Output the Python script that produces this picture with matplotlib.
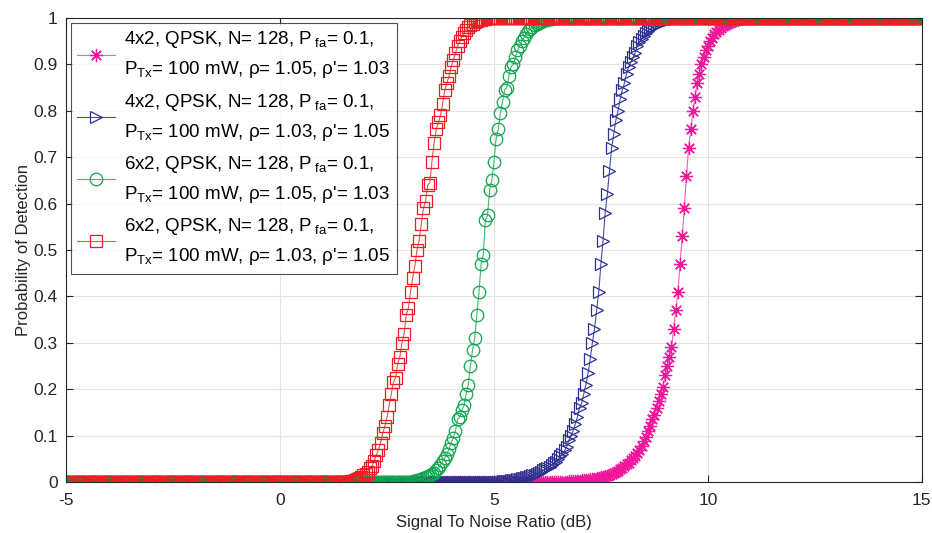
import numpy as np
import matplotlib
matplotlib.use("Agg")
import matplotlib.pyplot as plt

plt.rcParams['font.family'] = ['Liberation Sans', 'DejaVu Sans']
plt.rcParams['mathtext.fontset'] = 'custom'
plt.rcParams['mathtext.rm'] = 'Liberation Sans'
plt.rcParams['mathtext.it'] = 'Liberation Sans:italic'
plt.rcParams['axes.unicode_minus'] = False

STEP = 0.05
X_MIN, X_MAX = -5.0, 15.0

labels = [
    "4x2, QPSK, N= 128, P$_{\\ \\mathrm{fa}}$= 0.1,\nP$_{\\mathrm{Tx}}$= 100 mW, \u03c1= 1.05, \u03c1'= 1.03",
    "4x2, QPSK, N= 128, P$_{\\ \\mathrm{fa}}$= 0.1,\nP$_{\\mathrm{Tx}}$= 100 mW, \u03c1= 1.03, \u03c1'= 1.05",
    "6x2, QPSK, N= 128, P$_{\\ \\mathrm{fa}}$= 0.1,\nP$_{\\mathrm{Tx}}$= 100 mW, \u03c1= 1.05, \u03c1'= 1.03",
    "6x2, QPSK, N= 128, P$_{\\ \\mathrm{fa}}$= 0.1,\nP$_{\\mathrm{Tx}}$= 100 mW, \u03c1= 1.03, \u03c1'= 1.05",
]

# transition start SNR (dB) for each series; below -> Pd = 0, after list -> Pd = 1
start_4x2_a = 6.5
pd_4x2_a = [0.0, 0.0, 0.001, 0.001, 0.001, 0.002, 0.002, 0.002, 0.003, 0.003,
            0.003, 0.004, 0.004, 0.005, 0.005, 0.006, 0.006, 0.007, 0.008, 0.009,
            0.01, 0.011, 0.012, 0.013, 0.015, 0.017, 0.019, 0.021, 0.024, 0.027,
            0.03, 0.034, 0.038, 0.042, 0.047, 0.052, 0.056, 0.062, 0.068, 0.078,
            0.088, 0.098, 0.11, 0.12, 0.135, 0.145, 0.16, 0.175, 0.19, 0.205,
            0.23, 0.25, 0.27, 0.29, 0.33, 0.37, 0.41, 0.47, 0.53, 0.59,
            0.66, 0.72, 0.76, 0.8, 0.83, 0.86, 0.88, 0.9, 0.915, 0.93,
            0.94, 0.95, 0.958, 0.965, 0.97, 0.975, 0.979, 0.982, 0.985, 0.988,
            0.99, 0.992, 0.994, 0.995, 0.996, 0.997, 0.998, 0.999, 1.0]

start_4x2_b = 5.0
pd_4x2_b = [0.0, 0.0, 0.001, 0.001, 0.002, 0.002, 0.003, 0.003, 0.004, 0.004,
            0.005, 0.006, 0.007, 0.008, 0.009, 0.01, 0.011, 0.012, 0.014, 0.016,
            0.018, 0.02, 0.022, 0.025, 0.027, 0.03, 0.033, 0.037, 0.04, 0.044,
            0.05, 0.055, 0.06, 0.068, 0.075, 0.09, 0.1, 0.11, 0.125, 0.14,
            0.16, 0.17, 0.19, 0.21, 0.235, 0.265, 0.3, 0.33, 0.37, 0.41,
            0.47, 0.52, 0.58, 0.62, 0.67, 0.72, 0.75, 0.78, 0.8, 0.825,
            0.845, 0.86, 0.88, 0.895, 0.905, 0.915, 0.925, 0.94, 0.948, 0.955,
            0.962, 0.968, 0.972, 0.976, 0.98, 0.983, 0.986, 0.988, 0.99, 0.992,
            0.994, 0.995, 0.996, 0.997, 0.998, 0.999, 0.999, 1.0]

start_6x2_a = 3.0
pd_6x2_a = [0.0, 0.001, 0.002, 0.003, 0.004, 0.005, 0.006, 0.008, 0.01, 0.012,
            0.014, 0.017, 0.02, 0.025, 0.03, 0.037, 0.045, 0.052, 0.06, 0.072,
            0.085, 0.095, 0.11, 0.135, 0.14, 0.155, 0.165, 0.19, 0.21, 0.25,
            0.285, 0.31, 0.36, 0.41, 0.47, 0.49, 0.565, 0.575, 0.63, 0.65,
            0.69, 0.74, 0.76, 0.795, 0.82, 0.845, 0.85, 0.875, 0.895, 0.9,
            0.915, 0.93, 0.94, 0.95, 0.958, 0.965, 0.972, 0.977, 0.981, 0.985,
            0.988, 0.99, 0.992, 0.994, 0.995, 0.996, 0.997, 0.998, 0.999, 0.999,
            1.0]

start_6x2_b = 1.5
pd_6x2_b = [0.0, 0.0, 0.001, 0.002, 0.003, 0.004, 0.006, 0.008, 0.01, 0.014,
            0.018, 0.022, 0.03, 0.035, 0.045, 0.058, 0.07, 0.085, 0.105, 0.12,
            0.14, 0.165, 0.19, 0.215, 0.225, 0.255, 0.27, 0.3, 0.32, 0.36,
            0.375, 0.41, 0.44, 0.465, 0.5, 0.52, 0.555, 0.59, 0.605, 0.64,
            0.645, 0.69, 0.73, 0.76, 0.775, 0.79, 0.815, 0.845, 0.86, 0.875,
            0.895, 0.91, 0.925, 0.94, 0.95, 0.96, 0.968, 0.975, 0.98, 0.985,
            0.988, 0.991, 0.993, 0.995, 0.996, 0.997, 0.998, 0.999, 0.999, 1.0,
            1.0]

starts = [start_4x2_a, start_4x2_b, start_6x2_a, start_6x2_b]
pds = [pd_4x2_a, pd_4x2_b, pd_6x2_a, pd_6x2_b]

colors = ['#f0179b', '#2e3192', '#12a54f', '#ee1c25']
line_colors = ['#f55fb8', '#4a4da3', '#40b870', '#f25058']
markers = [(8, 2, 0), '>', 'o', 's']
msizes = [9.5, 8.5, 9, 8]


def full_series(start, vals):
    n_before = int(round((start - X_MIN) / STEP))
    n_total = int(round((X_MAX - X_MIN) / STEP)) + 1
    y = [0.0] * n_before + list(vals)
    y = y + [1.0] * (n_total - len(y))
    x = np.round(X_MIN + STEP * np.arange(n_total), 2)
    return x, np.array(y)


fig = plt.figure(figsize=(9.32, 5.33), dpi=100)
ax = fig.add_axes([0.071, 0.0957, 0.918, 0.8705])

handles = []
for i in range(4):
    x, y = full_series(starts[i], pds[i])
    h, = ax.plot(x, y, color=line_colors[i], lw=0.8, marker=markers[i],
                 markersize=msizes[i], markerfacecolor='none',
                 markeredgecolor=colors[i], markeredgewidth=0.9,
                 label=labels[i])
    handles.append(h)

ax.set_xlim(-5, 15)
ax.set_ylim(0, 1)
ax.set_xticks([-5, 0, 5, 10, 15])
ax.set_yticks(np.round(np.arange(0, 1.01, 0.1), 1))
ax.set_yticklabels(['0', '0.1', '0.2', '0.3', '0.4', '0.5', '0.6', '0.7', '0.8', '0.9', '1'])
ax.grid(True, color='#e3e3e3', lw=0.8)
ax.set_axisbelow(True)
ax.tick_params(direction='in', top=True, right=True, labelsize=12.5,
               colors='#262626', length=5)
ax.tick_params(axis='x', pad=8)
ax.tick_params(axis='y', pad=6)
for s in ax.spines.values():
    s.set_color('#262626')
    s.set_linewidth(0.8)
ax.set_xlabel('Signal To Noise Ratio (dB)', fontsize=12, color='#262626', labelpad=5)
ax.set_ylabel('Probability of Detection', fontsize=12, color='#262626', labelpad=2)

leg = ax.legend(handles=handles, loc='upper left', bbox_to_anchor=(0.0, 1.0),
                fontsize=13.5, frameon=True, fancybox=False, edgecolor='#262626',
                handlelength=2.0, labelspacing=0.6, borderaxespad=0.25,
                handletextpad=0.5, borderpad=0.35)
leg.get_frame().set_linewidth(0.8)
for t in leg.get_texts():
    t.set_linespacing(1.6)

fig.savefig('out.png', dpi=100)
